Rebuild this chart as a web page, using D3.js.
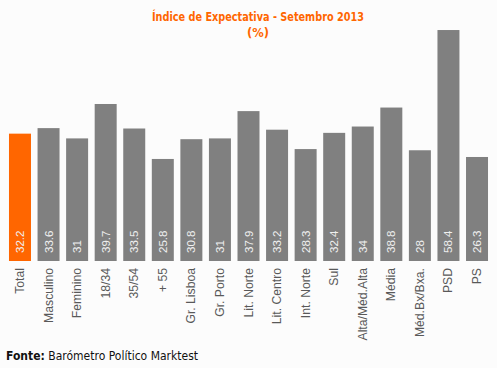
<!DOCTYPE html>
<html><head><meta charset="utf-8">
<script src="https://cdn.jsdelivr.net/npm/d3@7"></script>
<style>body{margin:0;background:#fcfcfc}svg{display:block}</style>
</head><body>
<script>
const categories = ["Total","Masculino","Feminino","18/34","35/54","+ 55","Gr. Lisboa","Gr. Porto","Lit. Norte","Lit. Centro","Int. Norte","Sul","Alta/Méd.Alta","Média","Méd.Bx/Bxa.","PSD","PS"];
const values = [32.2,33.6,31,39.7,33.5,25.8,30.8,31,37.9,33.2,28.3,32.4,34,38.8,28,58.4,26.3];
const valueLabels = ["32.2","33.6","31","39.7","33.5","25.8","30.8","31","37.9","33.2","28.3","32.4","34","38.8","28","58.4","26.3"];
const highlight = ["Total"];

const W=497,H=368;
const svg=d3.select("body").append("svg").attr("width",W).attr("height",H);
svg.append("rect").attr("width",W).attr("height",H).attr("fill","#fcfcfc");

const x=d3.scaleBand().domain(categories).range([5.7,491.3]).paddingInner(0.23).paddingOuter(0.115);
const y=d3.scaleLinear().domain([0,60]).range([261,261-60*3.955]);

svg.selectAll("rect.bar").data(categories).join("rect").attr("class","bar")
 .attr("x",d=>x(d)).attr("width",x.bandwidth())
 .attr("y",(d,i)=>y(values[i])).attr("height",(d,i)=>y(0)-y(values[i]))
 .attr("fill",d=>highlight.includes(d)?"#ff6600":"#808080");

const font="'Liberation Sans', Arial, sans-serif";
svg.selectAll("text.val").data(categories).join("text").attr("class","val")
 .attr("transform",(d,i)=>`translate(${x(d)+x.bandwidth()/2+4},253) rotate(-90)`)
 .attr("font-family",font).attr("font-size",11.5).attr("fill","#f0f0f0")
 .text((d,i)=>valueLabels[i]);

svg.selectAll("text.cat").data(categories).join("text").attr("class","cat")
 .attr("transform",d=>`translate(${x(d)+x.bandwidth()/2+4},268) rotate(-90)`)
 .attr("text-anchor","end")
 .attr("font-family",font).attr("font-size",12.2).attr("fill","#595959")
 .text(d=>d);

svg.append("text").attr("x",258).attr("y",21).attr("text-anchor","middle")
 .attr("font-family","'DejaVu Sans', Verdana, sans-serif").attr("font-weight","bold").attr("font-size",11.5)
 .attr("textLength",212).attr("lengthAdjust","spacingAndGlyphs")
 .attr("fill","#ff6600").text("Índice de Expectativa - Setembro 2013");
svg.append("text").attr("x",258).attr("y",37).attr("text-anchor","middle")
 .attr("font-family","'DejaVu Sans', Verdana, sans-serif").attr("font-weight","bold").attr("font-size",11.5)
 .attr("fill","#ff6600").text("(%)");

const f=svg.append("text").attr("x",6).attr("y",360)
 .attr("font-family","'DejaVu Sans', Verdana, sans-serif").attr("font-size",11.5).attr("fill","#111")
 .attr("textLength",192).attr("lengthAdjust","spacingAndGlyphs");
f.append("tspan").attr("font-weight","bold").text("Fonte:");
f.append("tspan").text(" Barómetro Político Marktest");
</script>
</body></html>
